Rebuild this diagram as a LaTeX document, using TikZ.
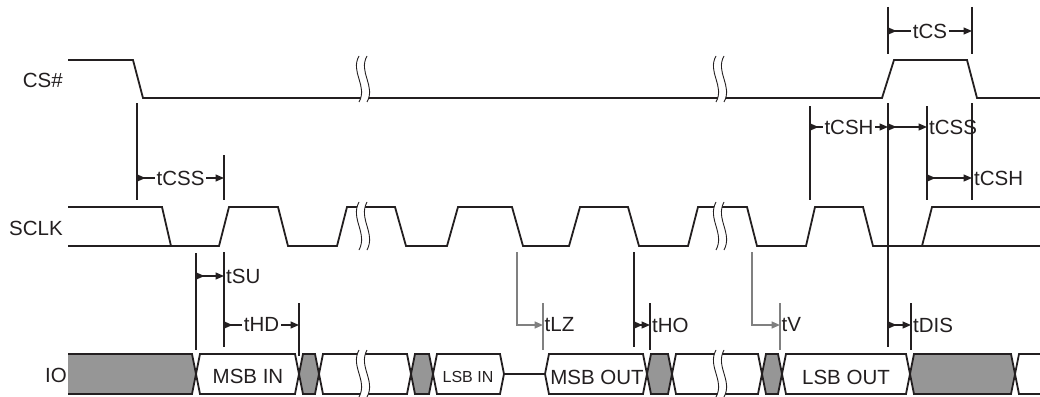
\documentclass[tikz,border=0pt]{standalone}
\usepackage{fontspec}
\setmainfont{Liberation Sans}
\usetikzlibrary{arrows.meta}
\definecolor{sig}{RGB}{35,31,32}
\definecolor{busgrey}{RGB}{150,150,150}
\definecolor{linegrey}{RGB}{128,128,128}
\newcommand{\busbox}[2]{%
  (#1,374) -- ({#1+4},354) -- ({#2-4},354) -- (#2,374) -- ({#2-4},394) -- ({#1+4},394) -- cycle}
\newcommand{\breakmark}[3]{%
  \fill[white] ({#1-4},#2) .. controls ({#1-13},{#2+0.35*(#3-#2)}) and ({#1+5},{#3-0.35*(#3-#2)}) .. ({#1-4},#3)
     -- ({#1+4},#3) .. controls ({#1+13},{#3-0.35*(#3-#2)}) and ({#1-5},{#2+0.35*(#3-#2)}) .. ({#1+4},#2) -- cycle;
  \draw[breakline] ({#1-4},#2) .. controls ({#1-13},{#2+0.35*(#3-#2)}) and ({#1+5},{#3-0.35*(#3-#2)}) .. ({#1-4},#3);
  \draw[breakline] ({#1+4},#2) .. controls ({#1-5},{#2+0.35*(#3-#2)}) and ({#1+13},{#3-0.35*(#3-#2)}) .. ({#1+4},#3);}
\begin{document}
\begin{tikzpicture}[x=1pt,y=-1pt,
  sigline/.style={draw=sig, line width=1.8pt, line join=miter},
  breakline/.style={draw=sig, line width=0.9pt},
  tick/.style={draw=sig, line width=1.6pt},
  gtick/.style={draw=linegrey, line width=1.6pt},
  dimarrow/.style={draw=sig, line width=1.4pt, {Triangle[reversed,length=8.5pt,width=7pt]}-{Triangle[length=8.5pt,width=7pt]}},
  garrow/.style={draw=linegrey, line width=1.6pt, line join=miter, -{Triangle[length=8.5pt,width=7pt]}},
  lbl/.style={font=\fontsize{20.5}{24}\selectfont, inner sep=1.5pt, text=sig},
  slbl/.style={font=\fontsize{16}{19}\selectfont, inner sep=0pt, text=sig},
  siglbl/.style={font=\fontsize{20.5}{24}\selectfont, inner sep=0pt, anchor=base east, text=sig},
]
\useasboundingbox (0,0) rectangle (1040,396);

% signal names
\node[siglbl] (ncs) at (63,87) {CS\#};
\node[siglbl] (nsclk) at (63,235) {SCLK};
\node[siglbl] (nio) at (67,382) {IO};

% CS#
\draw[sigline] (68,60) -- (133,60) -- (143,98) -- (882,98) -- (894,60) -- (967,60) -- (977,98) -- (1040,98);

% SCLK
\draw[sigline] (68,207) -- (162,207) -- (171,246);
\draw[sigline] (68,246) -- (219,246) -- (229,207) -- (278,207) -- (288,246) -- (337,246) -- (347,207)
  -- (395,207) -- (406,246) -- (447,246) -- (458,207) -- (512,207) -- (523,246) -- (569,246) -- (580,207)
  -- (628,207) -- (639,246) -- (688,246) -- (698,207) -- (747,207) -- (757,246) -- (806,246) -- (815,207)
  -- (863,207) -- (873,246) -- (1040,246);
\draw[sigline] (922,246) -- (932,207) -- (1040,207);

% IO bus
\fill[busgrey] (68,354) -- (192,354) -- (196,374) -- (192,394) -- (68,394) -- cycle;
\fill[busgrey] \busbox{299}{319};
\fill[busgrey] \busbox{411}{433};
\fill[busgrey] \busbox{647}{672};
\fill[busgrey] \busbox{762}{782};
\fill[busgrey] \busbox{910}{1015};
\draw[sigline] (68,354) -- (192,354) -- (196,374) -- (192,394) -- (68,394);
\draw[sigline] \busbox{196}{299};
\draw[sigline] \busbox{299}{319};
\draw[sigline] \busbox{319}{411};
\draw[sigline] \busbox{411}{433};
\draw[sigline] \busbox{433}{504};
\draw[sigline] (504,374) -- (545,374);
\draw[sigline] \busbox{545}{647};
\draw[sigline] \busbox{647}{672};
\draw[sigline] \busbox{672}{762};
\draw[sigline] \busbox{762}{782};
\draw[sigline] \busbox{782}{910};
\draw[sigline] \busbox{910}{1015};
\draw[sigline] (1040,354) -- (1019,354) -- (1015,374) -- (1019,394) -- (1040,394);

\node[lbl, anchor=base] (msbin) at (248,383) {MSB IN};
\node[slbl, anchor=base] (lsbin) at (468,382) {LSB IN};
\node[lbl, anchor=base] (msbout) at (597,384) {MSB OUT};
\node[lbl, anchor=base] (lsbout) at (846,384) {LSB OUT};

% break marks
\breakmark{363}{56}{102}
\breakmark{720}{56}{102}
\breakmark{363}{202}{250}
\breakmark{720}{202}{250}
\breakmark{363}{350}{397}
\breakmark{720}{350}{397}

% tCSS (first)
\draw[tick] (137,103) -- (137,200);
\draw[tick] (224,155) -- (224,200);
\draw[dimarrow] (137,178) -- (224,178) node[midway, fill=white, lbl] (tcss1) {tCSS};

% tSU / tHD
\draw[tick] (196,253) -- (196,350);
\draw[tick] (224,252) -- (224,347);
\draw[dimarrow] (196,276) -- (224,276) node[right, lbl] (tsu) {tSU};
\draw[tick] (299,303) -- (299,356);
\draw[dimarrow] (224,325) -- (299,325) node[midway, fill=white, lbl] (thd) {tHD};

% tLZ
\draw[garrow] (517,252) -- (517,325) -- (543,325);
\draw[gtick] (543,303) -- (543,350);
\node[lbl, right] (tlz) at (543,325) {tLZ};

% tHO
\draw[tick] (634,252) -- (634,347);
\draw[tick] (650,303) -- (650,350);
\draw[dimarrow] (634,325) -- (650,325) node[right, lbl] (tho) {tHO};

% tV
\draw[garrow] (752,252) -- (752,325) -- (780,325);
\draw[gtick] (780,303) -- (780,350);
\node[lbl, right] (tv) at (780,325) {tV};

% tDIS
\draw[tick] (888,103) -- (888,347);
\draw[tick] (911,303) -- (911,350);
\draw[dimarrow] (888,325) -- (911,325) node[right, lbl] (tdis) {tDIS};

% tCS
\draw[tick] (888,7) -- (888,54);
\draw[tick] (972,7) -- (972,54);
\draw[dimarrow] (888,31) -- (972,31) node[midway, fill=white, lbl] (tcs) {tCS};

% tCSH / tCSS / tCSH
\draw[tick] (810,106) -- (810,200);
\draw[dimarrow] (810,127) -- (888,127) node[midway, fill=white, lbl] (tcsh1) {tCSH};
\draw[tick] (927,106) -- (927,200);
\draw[dimarrow] (888,127) -- (927,127) node[right, lbl] (tcss2) {tCSS};
\draw[tick] (972,103) -- (972,200);
\draw[dimarrow] (927,178) -- (972,178) node[right, lbl] (tcsh2) {tCSH};
\end{tikzpicture}
\end{document}
